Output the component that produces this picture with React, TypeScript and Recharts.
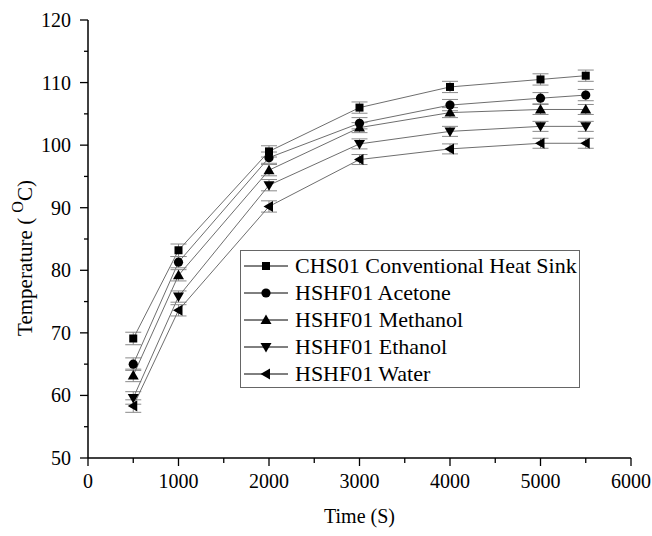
import React from "react"
import { LineChart, Line, XAxis, YAxis, Legend, ErrorBar } from "recharts"

const times = [500, 1000, 2000, 3000, 4000, 5000, 5500]

const chs01 = [69.1, 83.2, 99.0, 106.0, 109.3, 110.5, 111.1]
const acetone = [65.0, 81.3, 98.0, 103.5, 106.4, 107.5, 108.0]
const methanol = [63.2, 79.2, 96.0, 102.8, 105.2, 105.7, 105.7]
const ethanol = [59.6, 75.8, 93.6, 100.2, 102.2, 103.0, 103.0]
const water = [58.3, 73.6, 90.2, 97.7, 99.4, 100.3, 100.3]

const chs01Err = [1.0, 1.0, 0.9, 0.9, 0.9, 0.9, 0.9]
const acetoneErr = [1.0, 0.9, 0.9, 0.9, 0.9, 0.9, 0.9]
const methanolErr = [1.0, 0.9, 0.9, 0.8, 0.8, 0.8, 0.8]
const ethanolErr = [1.0, 0.9, 0.9, 0.8, 0.8, 0.8, 0.8]
const waterErr = [1.0, 0.9, 0.9, 0.8, 0.8, 0.8, 0.8]

const seriesNames = [
    "CHS01 Conventional Heat Sink",
    "HSHF01 Acetone",
    "HSHF01 Methanol",
    "HSHF01 Ethanol",
    "HSHF01 Water",
]
const seriesShapes = ["square", "circle", "up", "down", "left"]

const xTicks = [0, 500, 1000, 1500, 2000, 2500, 3000, 3500, 4000, 4500, 5000, 5500, 6000]
const yTicks = [50, 55, 60, 65, 70, 75, 80, 85, 90, 95, 100, 105, 110, 115, 120]
const topTicks = [600, 1200, 1800, 2400, 3000, 3600, 4200, 4800, 5400]
const rightTicks = [57, 64, 71, 78, 85, 92, 99, 106, 113]

const data = times.map((t, i) => ({
    time: t,
    chs: chs01[i],
    chsErr: chs01Err[i],
    ace: acetone[i],
    aceErr: acetoneErr[i],
    met: methanol[i],
    metErr: methanolErr[i],
    eth: ethanol[i],
    ethErr: ethanolErr[i],
    wat: water[i],
    watErr: waterErr[i],
}))

const FONT = '"Liberation Serif", "Times New Roman", serif'

function Marker({ shape, cx, cy }: { shape: string; cx: number; cy: number }) {
    if (cx == null || cy == null) return null
    if (shape === "square") return <rect x={cx - 4} y={cy - 4} width={8} height={8} fill="#000" />
    if (shape === "circle") return <circle cx={cx} cy={cy} r={4.6} fill="#000" />
    let pts = ""
    if (shape === "up") pts = `${cx},${cy - 5.5} ${cx - 5.5},${cy + 4} ${cx + 5.5},${cy + 4}`
    if (shape === "down") pts = `${cx},${cy + 5.5} ${cx - 5.5},${cy - 4} ${cx + 5.5},${cy - 4}`
    if (shape === "left") pts = `${cx - 5.5},${cy} ${cx + 4},${cy - 5.5} ${cx + 4},${cy + 5.5}`
    return <polygon points={pts} fill="#000" />
}

const dotFor = (shape: string) => (p: any) => (
    <Marker key={`${shape}-${p.index}`} shape={shape} cx={p.cx} cy={p.cy} />
)

function BottomTick(props: any) {
    const { x, y, payload } = props
    const major = payload.value % 1000 === 0
    return (
        <g>
            <line x1={x} y1={y} x2={x} y2={y + (major ? 8 : 5)} stroke="#000" strokeWidth={1.3} />
            {major && (
                <text x={x} y={y + 30} textAnchor="middle" fontFamily={FONT} fontSize={20} fill="#000">
                    {payload.value}
                </text>
            )}
        </g>
    )
}

function LeftTick(props: any) {
    const { x, y, payload } = props
    const major = payload.value % 10 === 0
    return (
        <g>
            <line x1={x} y1={y} x2={x - (major ? 8 : 4)} y2={y} stroke="#000" strokeWidth={1.3} />
            {major && (
                <text x={x - 17} y={y + 7} textAnchor="end" fontFamily={FONT} fontSize={20} fill="#000">
                    {payload.value}
                </text>
            )}
        </g>
    )
}

function TopTick(props: any) {
    const { x, y, payload } = props
    const long = (payload.value / 600) % 2 === 0
    return <line x1={x} y1={y} x2={x} y2={y + (long ? 6 : 4)} stroke="#000" strokeWidth={1.3} />
}

function RightTick(props: any) {
    const { x, y, payload } = props
    const long = ((120 - payload.value) / 7) % 2 === 0
    return <line x1={x} y1={y} x2={x - (long ? 8 : 5)} y2={y} stroke="#000" strokeWidth={1.3} />
}

function XTitle(props: any) {
    const vb = props.viewBox
    return (
        <text x={vb.x + vb.width / 2} y={vb.y + 65} textAnchor="middle" fontFamily={FONT} fontSize={20} fill="#000">
            Time (S)
        </text>
    )
}

function YTitle(props: any) {
    const vb = props.viewBox
    const cx = 32
    const cy = vb.y + vb.height / 2 + 19
    return (
        <text
            x={cx}
            y={cy}
            transform={`rotate(-90, ${cx}, ${cy})`}
            textAnchor="middle"
            fontFamily={FONT}
            fontSize={21}
            fill="#000"
        >
            <tspan>Temperature ( </tspan>
            <tspan dy={-9} fontSize={16}>O</tspan>
            <tspan dy={9}>C)</tspan>
        </text>
    )
}

function LegendBox() {
    return (
        <div
            style={{
                border: "1px solid #666",
                background: "#fff",
                width: 338,
                paddingTop: 1,
                paddingBottom: 0,
                boxSizing: "content-box",
            }}
        >
            {seriesNames.map((name, i) => (
                <div key={name} style={{ display: "flex", alignItems: "center", height: 27 }}>
                    <svg width={51} height={16} style={{ marginLeft: 3, flexShrink: 0 }}>
                        <line x1={0} y1={8} x2={44} y2={8} stroke="#000" strokeWidth={1} />
                        <Marker shape={seriesShapes[i]} cx={22} cy={8} />
                    </svg>
                    <span style={{ fontFamily: FONT, fontSize: 22, color: "#000", lineHeight: "27px" }}>{name}</span>
                </div>
            ))}
        </div>
    )
}

const seriesKeys = [
    ["chs", "chsErr"],
    ["ace", "aceErr"],
    ["met", "metErr"],
    ["eth", "ethErr"],
    ["wat", "watErr"],
]

export default function App() {
    return (
        <div style={{ position: "absolute", left: 0, top: 0, width: 652, height: 536, background: "#fff" }}>
            <LineChart width={652} height={536} data={data} margin={{ top: 20, right: 21, bottom: 0, left: 0 }}>
                <XAxis
                    xAxisId="b"
                    dataKey="time"
                    type="number"
                    domain={[0, 6000]}
                    ticks={xTicks}
                    interval={0}
                    height={78}
                    tickSize={0}
                    tickMargin={0}
                    tickLine={false}
                    axisLine={{ stroke: "#000", strokeWidth: 1.5 }}
                    tick={<BottomTick />}
                    label={<XTitle />}
                />
                <XAxis
                    xAxisId="t"
                    orientation="top"
                    type="number"
                    domain={[0, 6000]}
                    allowDataOverflow
                    ticks={topTicks}
                    interval={0}
                    height={0}
                    tickSize={0}
                    tickMargin={0}
                    tickLine={false}
                    axisLine={{ stroke: "#000", strokeWidth: 1.5 }}
                    tick={<TopTick />}
                />
                <YAxis
                    yAxisId="l"
                    type="number"
                    domain={[50, 120]}
                    ticks={yTicks}
                    interval={0}
                    width={88}
                    tickSize={0}
                    tickMargin={0}
                    tickLine={false}
                    axisLine={{ stroke: "#000", strokeWidth: 1.5 }}
                    tick={<LeftTick />}
                    label={<YTitle />}
                />
                <YAxis
                    yAxisId="r"
                    orientation="right"
                    type="number"
                    domain={[50, 120]}
                    allowDataOverflow
                    ticks={rightTicks}
                    interval={0}
                    width={0}
                    tickSize={0}
                    tickMargin={0}
                    tickLine={false}
                    axisLine={{ stroke: "#000", strokeWidth: 1.5 }}
                    tick={<RightTick />}
                />
                <Legend
                    layout="vertical"
                    align="center"
                    verticalAlign="middle"
                    content={<LegendBox />}
                    wrapperStyle={{ left: 240, top: 250, width: 340 }}
                />
                {seriesKeys.map(([k, e], i) => (
                    <Line
                        key={k}
                        xAxisId="b"
                        yAxisId="l"
                        dataKey={k}
                        name={seriesNames[i]}
                        stroke="#6e6e6e"
                        strokeWidth={1}
                        dot={dotFor(seriesShapes[i])}
                        activeDot={false}
                        isAnimationActive={false}
                    >
                        <ErrorBar dataKey={e} direction="y" width={8} stroke="#8a8a8a" strokeWidth={1} />
                    </Line>
                ))}
            </LineChart>
        </div>
    )
}
